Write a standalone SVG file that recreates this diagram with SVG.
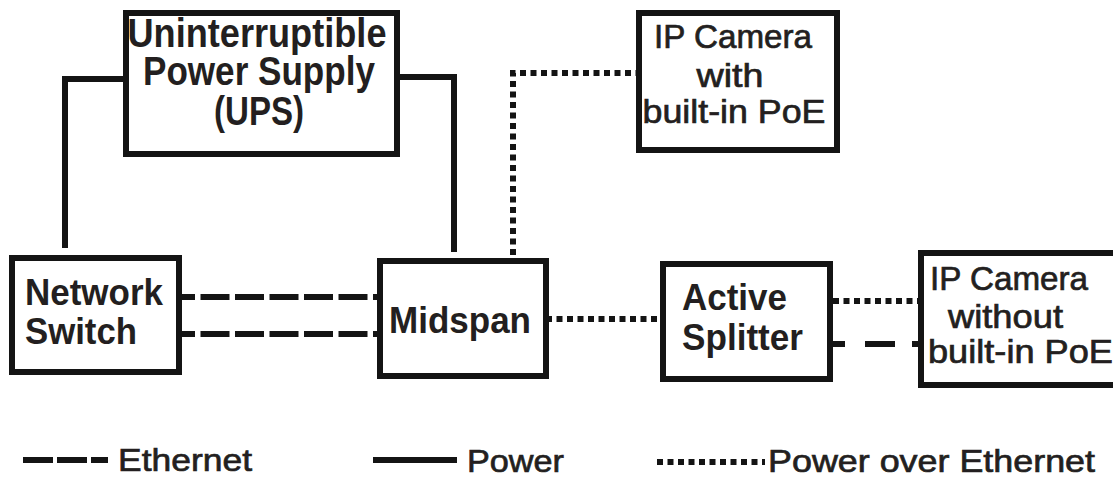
<svg xmlns="http://www.w3.org/2000/svg" width="1113" height="478" viewBox="0 0 1113 478">
  <style>
    .box { fill: #ffffff; stroke: #141414; stroke-width: 6; }
    .lbl { font-family: "Liberation Sans", Arial, sans-serif; font-weight: bold; fill: #231f20; }
    .lbl-r { font-family: "Liberation Sans", Arial, sans-serif; font-weight: normal; fill: #231f20; stroke: #231f20; stroke-width: 0.7; }
    .power { fill: none; stroke: #141414; stroke-width: 6; stroke-linejoin: miter; }
    .eth { fill: none; stroke: #141414; stroke-width: 6; }
    .poe { fill: none; stroke: #141414; stroke-width: 6; stroke-dasharray: 6 4.5; }
  </style>

  <rect width="1113" height="478" fill="#ffffff"/>

  <!-- connectors -->
  <g id="connectors">
    <!-- power feeds from the UPS -->
    <path class="power" d="M124 79 H65 V248"/>
    <path class="power" d="M399 77 H454 V252"/>
    <!-- PoE from midspan up to the PoE camera -->
    <path class="poe" d="M513 255 V73 H636"/>
    <!-- ethernet uplinks switch to midspan -->
    <line class="eth" x1="173" y1="297" x2="383" y2="297" stroke-dasharray="29 5.5" stroke-dashoffset="7"/>
    <line class="eth" x1="173" y1="334" x2="383" y2="334" stroke-dasharray="29 5.5" stroke-dashoffset="7"/>
    <!-- PoE midspan to splitter -->
    <line class="poe" x1="546" y1="319" x2="662" y2="319"/>
    <!-- splitter to camera without PoE: power and data -->
    <line class="poe" x1="833" y1="301" x2="927" y2="301"/>
    <line class="eth" x1="820" y1="344" x2="922" y2="344" stroke-dasharray="25 20 30 17 10"/>
  </g>

  <g id="ups">
    <rect class="box" x="126" y="13" width="271" height="141"/>
    <text class="lbl" font-size="40" x="257" y="47" text-anchor="middle" textLength="259" lengthAdjust="spacingAndGlyphs">Uninterruptible</text>
    <text class="lbl" font-size="40" x="259" y="85" text-anchor="middle" textLength="232" lengthAdjust="spacingAndGlyphs">Power Supply</text>
    <text class="lbl" font-size="40" x="259" y="125" text-anchor="middle" textLength="90" lengthAdjust="spacingAndGlyphs">(UPS)</text>
  </g>

  <g id="camera-poe">
    <rect class="box" x="639" y="13" width="198" height="137"/>
    <text class="lbl-r" font-size="33" x="733" y="48" text-anchor="middle" textLength="158" lengthAdjust="spacingAndGlyphs">IP Camera</text>
    <text class="lbl-r" font-size="33" x="730" y="87" text-anchor="middle" textLength="67" lengthAdjust="spacingAndGlyphs">with</text>
    <text class="lbl-r" font-size="33" x="734" y="123" text-anchor="middle" textLength="183" lengthAdjust="spacingAndGlyphs">built-in PoE</text>
  </g>

  <g id="network-switch">
    <rect class="box" x="12" y="258" width="167" height="114"/>
    <text class="lbl" font-size="36" x="25" y="305" textLength="138" lengthAdjust="spacingAndGlyphs">Network</text>
    <text class="lbl" font-size="36" x="25" y="344" textLength="112" lengthAdjust="spacingAndGlyphs">Switch</text>
  </g>

  <g id="midspan">
    <rect class="box" x="380" y="261" width="166" height="115"/>
    <text class="lbl" font-size="37" x="389" y="333" textLength="142" lengthAdjust="spacingAndGlyphs">Midspan</text>
  </g>

  <g id="active-splitter">
    <rect class="box" x="663" y="264" width="167" height="115"/>
    <text class="lbl" font-size="37" x="682" y="310" textLength="105" lengthAdjust="spacingAndGlyphs">Active</text>
    <text class="lbl" font-size="37" x="682" y="350" textLength="121" lengthAdjust="spacingAndGlyphs">Splitter</text>
  </g>

  <g id="camera-no-poe">
    <rect class="box" x="921" y="253" width="200" height="132"/>
    <text class="lbl-r" font-size="33" x="930" y="290" textLength="158" lengthAdjust="spacingAndGlyphs">IP Camera</text>
    <text class="lbl-r" font-size="33" x="948" y="328" textLength="115" lengthAdjust="spacingAndGlyphs">without</text>
    <text class="lbl-r" font-size="33" x="928" y="363" textLength="185" lengthAdjust="spacingAndGlyphs">built-in PoE</text>
  </g>

  <g id="legend">
    <line class="eth" x1="23" y1="460" x2="108" y2="460" stroke-dasharray="30 4"/>
    <text class="lbl-r" font-size="32" x="118" y="471" textLength="134" lengthAdjust="spacingAndGlyphs">Ethernet</text>
    <line class="power" x1="373" y1="460" x2="457" y2="460"/>
    <text class="lbl-r" font-size="32" x="467" y="472" textLength="97" lengthAdjust="spacingAndGlyphs">Power</text>
    <line class="poe" x1="657" y1="462" x2="765" y2="462"/>
    <text class="lbl-r" font-size="32" x="768" y="472" textLength="327" lengthAdjust="spacingAndGlyphs">Power over Ethernet</text>
  </g>
</svg>
